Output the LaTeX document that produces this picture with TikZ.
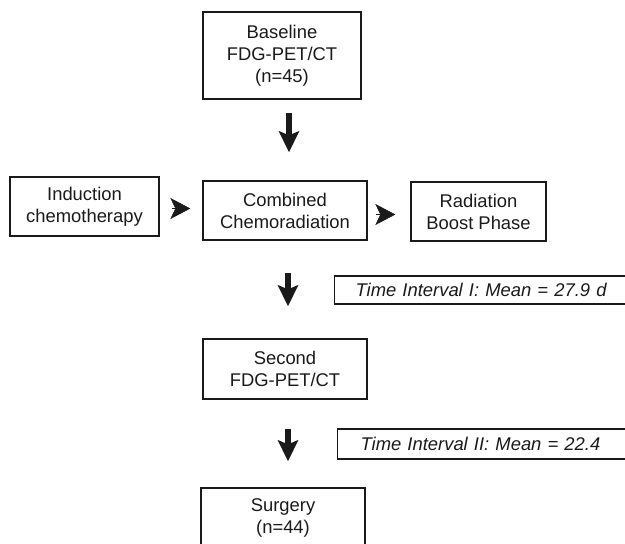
\documentclass[tikz,border=0pt]{standalone}
\usepackage{fontspec}
\setmainfont{Liberation Sans}
\usepackage{tikz}
\usetikzlibrary{positioning,arrows.meta,calc}
\definecolor{ink}{HTML}{1A1A1A}
\tikzset{
  every node/.style={font=\fontsize{18.4}{22}\selectfont, text=ink},
  % --- nodes
  box/.style   = {draw=ink, line width=1.3pt, align=center, inner sep=0pt},
  note/.style  = {box, align=left, font=\fontsize{18.4}{22}\selectfont\itshape},
  % --- edges
  down/.style  = {-{Stealth[length=21pt,width=20pt,inset=4pt]}, line width=5.5pt, draw=ink},
  tip/.style   = {-{Stealth[length=20pt,width=21pt,inset=5pt]}, line width=0.5pt, draw=ink},
}
\begin{document}
\begin{tikzpicture}[x=1pt,y=-1pt]
  \path[use as bounding box,clip] (0,0) rectangle (625,544);
  \node[box,minimum width=158pt,minimum height=87pt] (base) at (282,55.5)
        {Baseline\\FDG-PET/CT\\(n=45)};
  \node[box,minimum width=149pt,minimum height=59pt] (ind) at (84.5,206.5)
        {Induction\\chemotherapy};
  \node[box,minimum width=164pt,minimum height=59pt] (comb) at (285,210.5)
        {Combined\\Chemoradiation};
  \node[box,minimum width=135pt,minimum height=59pt] (rad) at (478.5,211.5)
        {Radiation\\Boost Phase};
  \node[note,anchor=west,inner xsep=21pt,text width=264pt,minimum height=28pt] (t1) at (334,290)
        {Time Interval I: Mean = 27.9 d};
  \node[box,minimum width=164pt,minimum height=60pt] (second) at (285,369)
        {Second\\FDG-PET/CT};
  \node[note,anchor=west,inner xsep=23pt,text width=260pt,minimum height=30pt] (t2) at (337,444)
        {Time Interval II: Mean = 22.4};
  \node[box,minimum width=164pt,minimum height=60pt] (surg) at (283,518)
        {Surgery\\(n=44)};
  % arrows
  \draw[down,shorten <=13pt,shorten >=28pt] ([xshift=7pt]base.south) -- ([xshift=7pt]base.south |- comb.north);
  \draw[down,shorten <=32pt,shorten >=32pt] ([xshift=3pt]comb.south) -- ([xshift=3pt]comb.south |- second.north);
  \draw[down,shorten <=29pt,shorten >=26pt] ([xshift=3pt]second.south) -- ([xshift=3pt]second.south |- surg.north);
  \draw[tip,shorten <=12pt,shorten >=12pt] ([yshift=-2pt]ind.east) -- ([yshift=-2pt]ind.east -| comb.west);
  \draw[tip,shorten <=8pt,shorten >=15pt] ([yshift=-4pt]comb.east) -- ([yshift=-4pt]comb.east -| rad.west);
\end{tikzpicture}
\end{document}
